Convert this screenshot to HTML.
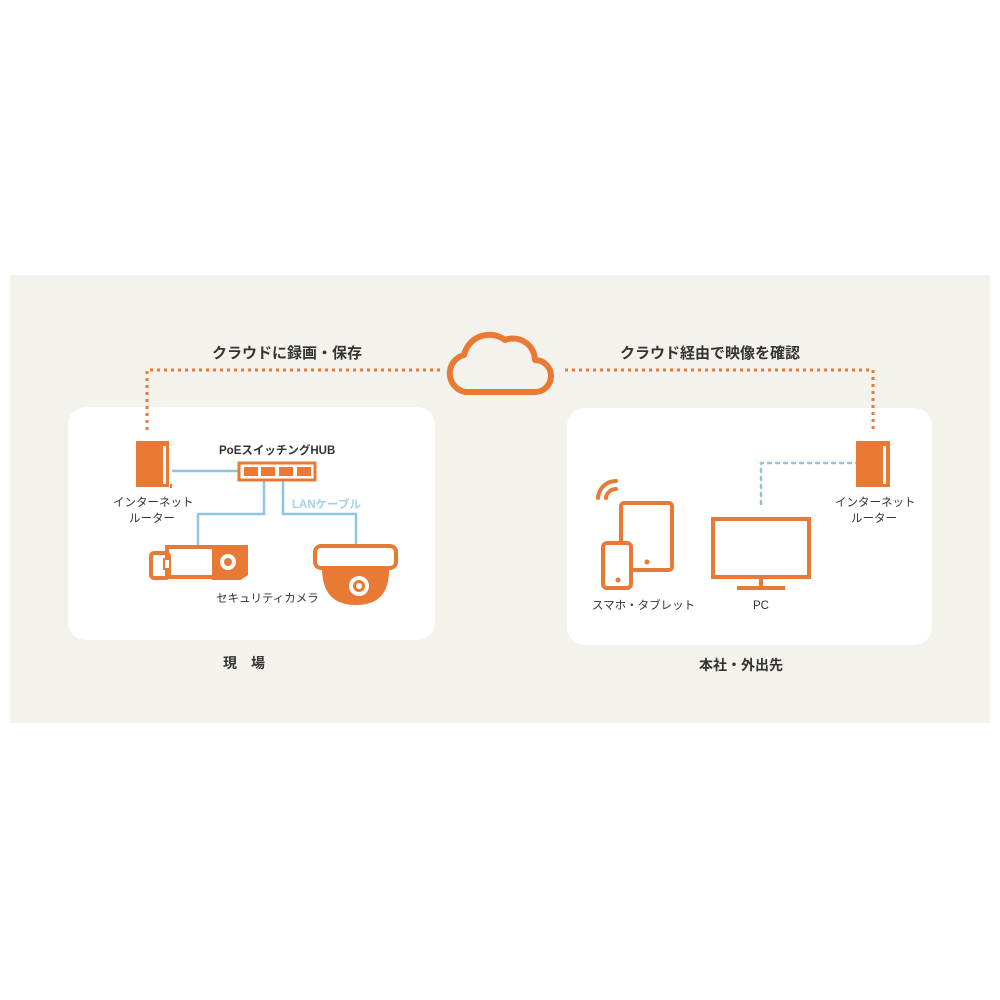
<!DOCTYPE html>
<html><head><meta charset="utf-8"><style>
html,body{margin:0;padding:0;background:#fff;width:1000px;height:1000px;overflow:hidden}
.t{font-family:"Liberation Sans","Noto Sans CJK JP",sans-serif;fill:#333;font-weight:bold}
</style></head><body>
<svg width="1000" height="1000" viewBox="0 0 1000 1000" xmlns="http://www.w3.org/2000/svg">
<rect x="10" y="275" width="980" height="448" fill="#f4f2ed"/>
<rect x="68" y="407" width="367" height="233" rx="18" fill="#fff"/>
<rect x="567" y="408" width="365" height="237" rx="18" fill="#fff"/>
<!-- dotted lines -->
<g stroke="#e87a35" stroke-width="3" stroke-dasharray="3 4" fill="none">
<path d="M440 370 H147 V432"/>
<path d="M565 370 H873 V432"/>
</g>
<!-- cloud -->
<path d="M465 392 H535 A16 16 0 0 0 535 360 A22 22 0 0 0 505 340 A26 26 0 0 0 464 355 A19 19 0 0 0 465 392 Z" fill="none" stroke="#e87a35" stroke-width="6" stroke-linejoin="round"/>
<text class="t" x="212" y="358" font-size="15">クラウドに録画・保存</text>
<text class="t" x="620" y="358" font-size="15">クラウド経由で映像を確認</text>
<!-- left -->
<rect x="136" y="441" width="33" height="46" fill="#e87a35"/>
<rect x="163" y="446" width="3" height="38" fill="#fff"/>
<rect x="170" y="484" width="2" height="4" fill="#e87a35"/>
<g stroke="#8fc4e2" stroke-width="2.5" fill="none">
<path d="M172 471 H238"/>
<path d="M264 481 V514 H198 V545"/>
<path d="M283 481 V514 H356 V545"/>
</g>
<rect x="239" y="463" width="76" height="17" fill="#fff" stroke="#e87a35" stroke-width="3"/>
<g fill="#e87a35"><rect x="244" y="467" width="14" height="9"/><rect x="261" y="467" width="14" height="9"/><rect x="279" y="467" width="14" height="9"/><rect x="297" y="467" width="14" height="9"/></g>
<text class="t" x="219" y="454" font-size="11.5">PoEスイッチングHUB</text>
<text class="t" x="113" y="506" font-size="11.5" font-weight="normal" style="font-weight:normal">インターネット</text>
<text class="t" x="129" y="522" font-size="11.5" style="font-weight:normal">ルーター</text>
<text class="t" x="292" y="508" font-size="11.5" fill="#a8d0e8" style="fill:#a8d0e8">LANケーブル</text>
<!-- bullet cam -->
<g fill="none" stroke="#e87a35" stroke-width="4">
<rect x="151" y="553" width="18" height="25" rx="3"/>
<rect x="167" y="547" width="47" height="30"/>
<path d="M214 547 H246 V574 L240 578 H214 Z" fill="#e87a35"/>
</g>
<circle cx="228" cy="562" r="8" fill="#fff"/><circle cx="228" cy="562" r="4" fill="#e87a35"/>
<rect x="164" y="559" width="6" height="10" fill="#fff" stroke="#e87a35" stroke-width="2"/>
<!-- dome cam -->
<rect x="315" y="546" width="81" height="22" rx="6" fill="none" stroke="#e87a35" stroke-width="4"/>
<path d="M322 568 H389 A6 6 0 0 1 389 568 Q390 605 356 605 Q322 605 322 568 Z" fill="#e87a35"/>
<circle cx="359" cy="586" r="10" fill="#fff"/><circle cx="359" cy="586" r="6" fill="#e87a35"/><circle cx="359" cy="586" r="3" fill="#fff"/>
<text class="t" x="216" y="602" font-size="11.5" style="font-weight:normal">セキュリティカメラ</text>
<text class="t" x="223" y="668" font-size="14">現　場</text>
<!-- right -->
<path d="M761 505 V463 H856" stroke="#8fc4e2" stroke-width="2.5" stroke-dasharray="5 3" fill="none"/>
<rect x="856" y="441" width="34" height="46" fill="#e87a35"/>
<rect x="883" y="446" width="3" height="38" fill="#fff"/>
<text class="t" x="835" y="506" font-size="11.5" style="font-weight:normal">インターネット</text>
<text class="t" x="851" y="522" font-size="11.5" style="font-weight:normal">ルーター</text>
<rect x="713" y="519" width="96" height="58" fill="none" stroke="#e87a35" stroke-width="4"/>
<rect x="759" y="577" width="4" height="10" fill="#e87a35"/>
<rect x="737" y="586" width="48" height="4" fill="#e87a35"/>
<text class="t" x="753" y="609" font-size="11.5" style="font-weight:normal">PC</text>
<rect x="621" y="503" width="51" height="67" rx="3" fill="none" stroke="#e87a35" stroke-width="4"/>
<circle cx="647" cy="562" r="2.5" fill="#e87a35"/>
<rect x="603" y="543" width="28" height="45" rx="4" fill="#fff" stroke="#e87a35" stroke-width="4"/>
<circle cx="618" cy="580" r="2.5" fill="#e87a35"/>
<g fill="none" stroke="#e87a35" stroke-width="4" stroke-linecap="round">
<path d="M598 498 A18 18 0 0 1 616 481"/>
<path d="M606 498 A10 10 0 0 1 616 489"/>
</g>
<text class="t" x="592" y="609" font-size="11.5" style="font-weight:normal">スマホ・タブレット</text>
<text class="t" x="699" y="670" font-size="14">本社・外出先</text>
</svg>
</body></html>
